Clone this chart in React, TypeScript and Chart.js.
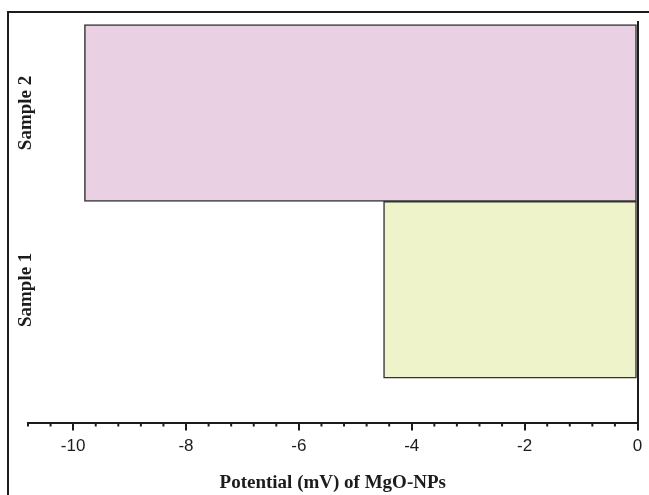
import React, { useEffect, useRef } from "react";
import { Chart, registerables } from "chart.js";

Chart.register(...registerables);

const categories = ["Sample 1", "Sample 2"];
const potentials = [-4.5, -9.8];
const barColors = ["#EEF3CA", "#E9D0E3"];
const xTickValues = [-10, -8, -6, -4, -2, 0];
const xMin = -10.8;
const xMax = 0;
const minorStep = 0.4;
const axisTitle = "Potential (mV) of MgO-NPs";

const INK = "#1c1c1c";

const minorTicksPlugin = {
  id: "minorTicks",
  afterDraw(chart: any) {
    const xs = chart.scales.x;
    const ctx = chart.ctx;
    const y0 = xs.top;
    ctx.save();
    ctx.strokeStyle = INK;
    ctx.lineWidth = 2;
    for (let i = 0; ; i++) {
      const v = xs.min + i * minorStep;
      if (v > xs.max + 1e-9) break;
      if (Math.abs(v / 2 - Math.round(v / 2)) < 1e-6) continue;
      const px = xs.getPixelForValue(v);
      ctx.beginPath();
      ctx.moveTo(px, y0);
      ctx.lineTo(px, y0 + 4);
      ctx.stroke();
    }
    ctx.restore();
  },
};

const sideLabelsPlugin = {
  id: "sideLabels",
  afterDraw(chart: any) {
    const ys = chart.scales.y;
    const ctx = chart.ctx;
    ctx.save();
    ctx.fillStyle = INK;
    ctx.font = 'bold 19px "Liberation Serif"';
    ctx.textAlign = "center";
    ctx.textBaseline = "middle";
    categories.forEach((label, i) => {
      const y = ys.getPixelForValue(i + 1);
      ctx.save();
      ctx.translate(26, y);
      ctx.rotate(-Math.PI / 2);
      ctx.fillText(label, 0, 0);
      ctx.restore();
    });
    ctx.restore();
  },
};

export default function App() {
  const canvasRef = useRef<HTMLCanvasElement | null>(null);

  useEffect(() => {
    if (!canvasRef.current) return;
    const chart = new Chart(canvasRef.current, {
      type: "bar",
      data: {
        datasets: [
          {
            data: categories.map((c, i) => ({ x: potentials[i], y: i + 1 })) as any,
            backgroundColor: barColors,
            borderColor: "#333333",
            borderWidth: 1.5,
            borderSkipped: false,
            barPercentage: 1,
            categoryPercentage: 1,
          },
        ],
      },
      options: {
        indexAxis: "y",
        responsive: false,
        animation: false,
        events: [],
        layout: { padding: { left: 28, right: 11.5, top: 21, bottom: 0 } },
        plugins: {
          legend: { display: false },
          tooltip: { enabled: false },
        },
        scales: {
          y: {
            type: "linear",
            display: false,
            offset: false,
            grid: { offset: false },
            min: 0.25,
            max: 2.52,
            afterBuildTicks: (s: any) => {
              s.ticks = categories.map((c, i) => ({ value: i + 1 }));
            },
          },
          x: {
            type: "linear",
            position: "bottom",
            min: xMin,
            max: xMax,
            afterBuildTicks: (s: any) => {
              s.ticks = xTickValues.map((v) => ({ value: v }));
            },
            afterFit: (s: any) => {
              s.height = 72.5;
            },
            border: { display: true, color: INK, width: 2 },
            grid: {
              drawOnChartArea: true,
              drawTicks: true,
              tickLength: 8,
              lineWidth: 2,
              color: (ctx: any) => (ctx.tick && ctx.tick.value === 0 ? INK : "rgba(0,0,0,0)"),
              tickColor: INK,
              tickWidth: 2,
            },
            ticks: {
              padding: 6,
              color: INK,
              font: { family: "Liberation Sans", size: 17 },
              maxRotation: 0,
              callback: (v: any) => String(v),
            },
            title: {
              display: true,
              text: axisTitle,
              color: INK,
              font: { family: "Liberation Serif", size: 19, weight: "bold" },
              padding: { top: 2, bottom: 1 },
            },
          },
        },
      },
      plugins: [minorTicksPlugin, sideLabelsPlugin],
    });
    return () => chart.destroy();
  }, []);

  return (
    <div
      style={{
        position: "fixed",
        left: 0,
        top: 0,
        width: 649,
        height: 495,
        overflow: "hidden",
        background: "#ffffff",
      }}
    >
      <div
        style={{
          position: "absolute",
          left: 7,
          top: 11,
          width: 700,
          height: 600,
          borderLeft: `2px solid ${INK}`,
          borderTop: `2px solid ${INK}`,
        }}
      />
      <canvas
        ref={canvasRef}
        width={649}
        height={495}
        style={{ position: "absolute", left: 0, top: 0, width: 649, height: 495 }}
      />
    </div>
  );
}
